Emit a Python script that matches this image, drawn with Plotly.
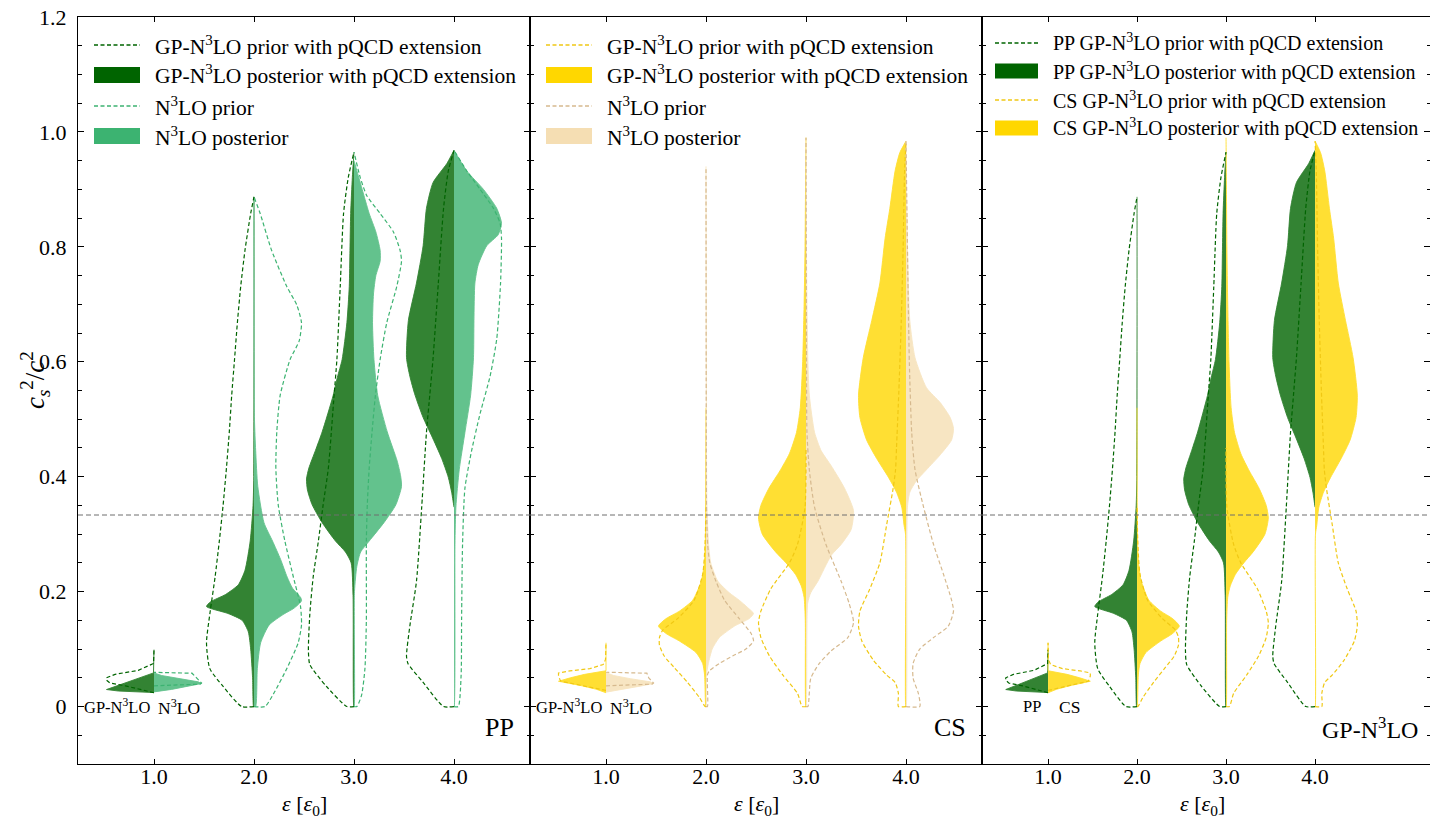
import plotly.graph_objects as go

# ---------------- data ----------------
POSITIONS = [1.0, 2.0, 3.0, 4.0]           # energy density eps/eps0
CONFORMAL_LIMIT = 1.0 / 3.0
Y_TICKS = [0.0, 0.2, 0.4, 0.6, 0.8, 1.0, 1.2]
Y_TICK_TEXT = ["0", "0.2", "0.4", "0.6", "0.8", "1.0", "1.2"]
X_TICK_TEXT = ["1.0", "2.0", "3.0", "4.0"]

# Each profile: per position, c_s^2 values and relative density (max = 1)
PP_GP_PRIOR_Y = [
    [0.024, 0.026, 0.031, 0.036, 0.041, 0.046, 0.050, 0.056, 0.063, 0.070, 0.075, 0.099],
    [0.0, 0.035, 0.066, 0.111, 0.161, 0.225, 0.288, 0.351, 0.415, 0.478, 0.541, 0.604, 0.668, 0.731, 0.794, 0.858, 0.887],
    [0.0, 0.035, 0.073, 0.098, 0.161, 0.225, 0.288, 0.351, 0.415, 0.541, 0.604, 0.731, 0.858, 0.921, 0.965],
    [0.0, 0.042, 0.075, 0.088, 0.14, 0.218, 0.347, 0.477, 0.542, 0.607, 0.737, 0.867, 0.932, 0.968],
]
PP_GP_PRIOR_D = [
    [0.0, 0.1, 0.3, 0.6, 0.93, 1.0, 1.0, 0.82, 0.33, 0.12, 0.01, 0.0],
    [0.26, 0.65, 0.93, 1.0, 0.93, 0.82, 0.73, 0.65, 0.58, 0.52, 0.47, 0.41, 0.35, 0.28, 0.19, 0.07, 0.0],
    [0.15, 0.58, 0.93, 0.96, 0.93, 0.86, 0.75, 0.65, 0.54, 0.42, 0.36, 0.29, 0.22, 0.12, 0.0],
    [0.22, 0.65, 0.97, 1.0, 0.93, 0.79, 0.68, 0.58, 0.51, 0.44, 0.33, 0.22, 0.12, 0.0],
]

PP_GP_POST_Y = [
    [0.0243, 0.0255, 0.027, 0.0296, 0.035, 0.040, 0.045, 0.050, 0.055, 0.0585, 0.099],
    [0.0, 0.05, 0.10, 0.13, 0.15, 0.162, 0.174, 0.182, 0.195, 0.212, 0.237, 0.288, 0.35, 0.40, 0.887],
    [0.0, 0.193, 0.25, 0.269, 0.288, 0.32, 0.351, 0.377, 0.396, 0.415, 0.446, 0.478, 0.541, 0.573, 0.604, 0.668, 0.731, 0.794, 0.858, 0.921, 0.965],
    [0.347, 0.373, 0.399, 0.432, 0.471, 0.503, 0.542, 0.575, 0.607, 0.672, 0.737, 0.802, 0.867, 0.912, 0.945, 0.968],
]
PP_GP_POST_D = [
    [0.0, 0.4, 0.75, 1.0, 0.81, 0.64, 0.46, 0.29, 0.12, 0.01, 0.0],
    [0.01, 0.03, 0.07, 0.12, 0.25, 0.55, 1.0, 0.92, 0.6, 0.33, 0.19, 0.08, 0.02, 0.005, 0.0],
    [0.005, 0.02, 0.06, 0.18, 0.39, 0.67, 0.88, 0.98, 1.0, 0.95, 0.81, 0.67, 0.44, 0.35, 0.25, 0.15, 0.1, 0.085, 0.07, 0.035, 0.0],
    [0.0, 0.05, 0.12, 0.26, 0.47, 0.65, 0.82, 0.93, 1.0, 0.96, 0.79, 0.65, 0.58, 0.44, 0.15, 0.0],
]

PP_N3LO_PRIOR_Y = [
    [0.036, 0.039, 0.041, 0.050, 0.058, 0.0595],
    [0.0, 0.022, 0.066, 0.111, 0.142, 0.174, 0.225, 0.288, 0.351, 0.415, 0.478, 0.541, 0.604, 0.636, 0.668, 0.699, 0.731, 0.794, 0.858, 0.887],
    [0.0, 0.02, 0.066, 0.15, 0.288, 0.351, 0.415, 0.478, 0.541, 0.604, 0.668, 0.731, 0.775, 0.794, 0.826, 0.858, 0.889, 0.921, 0.965],
    [0.0, 0.055, 0.153, 0.282, 0.38, 0.445, 0.51, 0.575, 0.64, 0.737, 0.815, 0.841, 0.867, 0.9, 0.932, 0.968],
]
PP_N3LO_PRIOR_D = [
    [0.0, 0.97, 1.0, 0.9, 0.8, 0.0],
    [0.23, 0.41, 0.69, 0.93, 1.0, 0.98, 0.83, 0.65, 0.51, 0.46, 0.48, 0.55, 0.76, 0.95, 1.0, 0.9, 0.69, 0.37, 0.13, 0.0],
    [0.06, 0.16, 0.23, 0.26, 0.26, 0.28, 0.32, 0.38, 0.45, 0.55, 0.69, 0.9, 1.0, 0.97, 0.83, 0.55, 0.27, 0.13, 0.0],
    [0.09, 0.15, 0.16, 0.18, 0.23, 0.37, 0.55, 0.76, 0.9, 0.98, 1.0, 0.97, 0.83, 0.55, 0.27, 0.0],
]

PP_N3LO_POST_Y = [
    [0.0255, 0.0298, 0.0355, 0.040, 0.043, 0.0485, 0.054, 0.0585],
    [0.0, 0.066, 0.111, 0.142, 0.161, 0.171, 0.184, 0.19, 0.206, 0.225, 0.256, 0.288, 0.32, 0.383, 0.446, 0.5, 0.887],
    [0.0, 0.2, 0.244, 0.269, 0.288, 0.32, 0.351, 0.383, 0.402, 0.427, 0.478, 0.541, 0.604, 0.668, 0.718, 0.75, 0.775, 0.794, 0.826, 0.858, 0.889, 0.921, 0.95],
    [0.0, 0.282, 0.347, 0.412, 0.477, 0.542, 0.607, 0.672, 0.737, 0.769, 0.802, 0.821, 0.841, 0.867, 0.9, 0.932, 0.968],
]
PP_N3LO_POST_D = [
    [0.0, 0.37, 0.72, 1.0, 0.93, 0.51, 0.16, 0.0],
    [0.035, 0.07, 0.14, 0.32, 0.63, 0.84, 1.0, 0.98, 0.81, 0.7, 0.56, 0.39, 0.21, 0.08, 0.035, 0.01, 0.0],
    [0.005, 0.01, 0.06, 0.14, 0.32, 0.63, 0.88, 1.0, 0.98, 0.91, 0.7, 0.5, 0.42, 0.39, 0.41, 0.46, 0.55, 0.55, 0.46, 0.32, 0.21, 0.1, 0.0],
    [0.005, 0.02, 0.04, 0.11, 0.23, 0.35, 0.41, 0.42, 0.44, 0.51, 0.69, 0.93, 1.0, 0.9, 0.62, 0.27, 0.0],
]

CS_GP_PRIOR_Y = [
    [0.028, 0.035, 0.044, 0.047, 0.053, 0.0585, 0.062, 0.066, 0.073, 0.082, 0.111],
    [0.0, 0.016, 0.042, 0.068, 0.088, 0.107, 0.12, 0.133, 0.153, 0.185, 0.23, 0.282, 0.347],
    [0.0, 0.023, 0.055, 0.088, 0.12, 0.146, 0.166, 0.205, 0.25, 0.282, 0.347, 0.45],
    [0.0, 0.023, 0.042, 0.055, 0.081, 0.114, 0.14, 0.166, 0.205, 0.25, 0.315, 0.38, 0.412, 0.45, 0.55, 0.67, 0.8, 0.93, 0.984],
]
CS_GP_PRIOR_D = [
    [0.0, 0.4, 0.95, 0.97, 1.0, 1.0, 0.76, 0.34, 0.06, 0.01, 0.0],
    [0.02, 0.14, 0.39, 0.67, 0.88, 0.98, 0.98, 0.91, 0.6, 0.25, 0.07, 0.02, 0.0],
    [0.08, 0.18, 0.49, 0.77, 0.95, 1.0, 0.95, 0.74, 0.35, 0.18, 0.02, 0.0],
    [0.16, 0.16, 0.23, 0.41, 0.69, 0.93, 1.0, 0.97, 0.76, 0.55, 0.41, 0.27, 0.22, 0.2, 0.15, 0.1, 0.06, 0.03, 0.0],
]

CS_GP_POST_Y = [
    [0.024, 0.030, 0.036, 0.044, 0.050, 0.056, 0.0623, 0.111],
    [0.0, 0.055, 0.075, 0.094, 0.114, 0.127, 0.14, 0.153, 0.166, 0.185, 0.218, 0.25, 0.3, 0.52],
    [0.0, 0.15, 0.19, 0.21, 0.23, 0.25, 0.27, 0.3, 0.328, 0.35, 0.38, 0.41, 0.44, 0.477, 0.52, 0.6, 0.7, 0.8, 0.9, 0.99],
    [0.0, 0.3, 0.315, 0.347, 0.373, 0.399, 0.432, 0.464, 0.503, 0.542, 0.607, 0.672, 0.737, 0.815, 0.867, 0.932, 0.964, 0.984],
]
CS_GP_POST_D = [
    [0.0, 0.2, 0.5, 1.0, 0.75, 0.45, 0.0, 0.0],
    [0.005, 0.03, 0.07, 0.21, 0.56, 0.84, 1.0, 0.84, 0.56, 0.28, 0.1, 0.035, 0.01, 0.0],
    [0.005, 0.015, 0.04, 0.1, 0.22, 0.42, 0.65, 0.92, 1.0, 0.95, 0.78, 0.55, 0.35, 0.2, 0.12, 0.07, 0.04, 0.02, 0.01, 0.0],
    [0.005, 0.01, 0.04, 0.09, 0.2, 0.37, 0.62, 0.83, 0.97, 1.0, 0.9, 0.72, 0.55, 0.44, 0.34, 0.23, 0.13, 0.0],
]

CS_N3LO_PRIOR_Y = [
    [0.036, 0.039, 0.041, 0.050, 0.058, 0.0597],
    [0.0, 0.055, 0.062, 0.075, 0.088, 0.1, 0.114, 0.127, 0.153, 0.185, 0.218, 0.25, 0.282, 0.35, 0.5, 0.94],
    [0.0, 0.049, 0.075, 0.097, 0.12, 0.146, 0.179, 0.218, 0.282, 0.347, 0.412, 0.477, 0.6, 0.99],
    [0.0, 0.023, 0.049, 0.075, 0.1, 0.12, 0.14, 0.166, 0.185, 0.23, 0.282, 0.347, 0.412, 0.477, 0.6, 0.8, 0.984],
]
CS_N3LO_PRIOR_D = [
    [0.0, 0.97, 1.0, 0.9, 0.86, 0.0],
    [0.03, 0.03, 0.07, 0.28, 0.56, 0.84, 1.0, 0.95, 0.7, 0.39, 0.21, 0.08, 0.035, 0.01, 0.005, 0.0],
    [0.04, 0.1, 0.28, 0.53, 0.88, 1.0, 0.91, 0.74, 0.42, 0.18, 0.07, 0.02, 0.01, 0.0],
    [0.29, 0.26, 0.15, 0.15, 0.29, 0.58, 0.89, 1.0, 0.96, 0.79, 0.58, 0.37, 0.19, 0.12, 0.07, 0.03, 0.0],
]

CS_N3LO_POST_Y = [
    [0.025, 0.030, 0.0355, 0.040, 0.043, 0.0485, 0.054, 0.059],
    [0.0, 0.055, 0.075, 0.1, 0.12, 0.14, 0.153, 0.162, 0.172, 0.185, 0.198, 0.218, 0.25, 0.282, 0.347, 0.5, 0.94],
    [0.0, 0.18, 0.198, 0.218, 0.263, 0.282, 0.308, 0.341, 0.38, 0.419, 0.445, 0.477, 0.542, 0.6, 0.7, 0.8, 0.99],
    [0.0, 0.347, 0.373, 0.393, 0.412, 0.438, 0.464, 0.484, 0.503, 0.529, 0.555, 0.607, 0.672, 0.802, 0.9, 0.984],
]
CS_N3LO_POST_D = [
    [0.0, 0.37, 0.72, 1.0, 0.93, 0.51, 0.16, 0.0],
    [0.005, 0.01, 0.05, 0.13, 0.28, 0.6, 0.91, 1.0, 0.88, 0.7, 0.49, 0.25, 0.1, 0.055, 0.02, 0.008, 0.0],
    [0.005, 0.035, 0.1, 0.25, 0.53, 0.74, 0.95, 1.0, 0.81, 0.53, 0.32, 0.18, 0.07, 0.04, 0.02, 0.01, 0.0],
    [0.005, 0.03, 0.08, 0.22, 0.43, 0.72, 0.96, 1.0, 0.93, 0.72, 0.43, 0.19, 0.08, 0.03, 0.01, 0.0],
]

PANEL_NAMES = ["PP", "CS", "GP-N<sup>3</sup>LO"]

# ---------------- style ----------------
FONT = "Liberation Serif"
HALF_WIDTH = 0.475
DG, MSG, GOLD, WHEAT = "#006400", "#3CB371", "#FFD700", "#F5DEB3"
DG_FILL, MSG_FILL, GOLD_FILL, WHEAT_FILL = "#338333", "#63C28D", "#FFDF33", "#F7E5C2"
DG_LINE, MSG_LINE, GOLD_LINE, TAN_LINE = "#006400", "#3CB371", "#F0C814", "#D6B98E"
DASH = "4px,2.5px"

W_PX, H_PX = 1430, 820
L, R, T, B = 78, 1430, 17, 764


def px(x):
    return (x - L) / (R - L)


def py(y):
    return (B - y) / (B - T)


fig = go.Figure()


def half(ax, ys, ds, center, side, color, filled, smooth):
    xs = [center] + [center + side * HALF_WIDTH * d for d in ds] + [center]
    yy = [ys[0]] + list(ys) + [ys[-1]]
    shape = "spline" if smooth else "linear"
    if filled:
        fig.add_trace(go.Scatter(x=xs, y=yy, mode="lines", fill="toself", fillcolor=color,
                                 line=dict(color=color, width=0.9, shape=shape, smoothing=0.6),
                                 xaxis=ax[0], yaxis=ax[1], showlegend=False, hoverinfo="skip"))
    else:
        fig.add_trace(go.Scatter(x=xs, y=yy, mode="lines",
                                 line=dict(color=color, width=1.2, dash=DASH, shape=shape, smoothing=0.6),
                                 xaxis=ax[0], yaxis=ax[1], showlegend=False, hoverinfo="skip"))


def draw(ax, Y, D, side, color, filled):
    for i, c in enumerate(POSITIONS):
        half(ax, Y[i], D[i], c, side, color, filled, smooth=(i > 0))


A1, A2, A3 = ("x", "y"), ("x2", "y2"), ("x3", "y3")
# panel 1: PP
draw(A1, PP_GP_POST_Y, PP_GP_POST_D, -1, DG_FILL, True)
draw(A1, PP_N3LO_POST_Y, PP_N3LO_POST_D, 1, MSG_FILL, True)
draw(A1, PP_GP_PRIOR_Y, PP_GP_PRIOR_D, -1, DG_LINE, False)
draw(A1, PP_N3LO_PRIOR_Y, PP_N3LO_PRIOR_D, 1, MSG_LINE, False)
# panel 2: CS
draw(A2, CS_GP_POST_Y, CS_GP_POST_D, -1, GOLD_FILL, True)
draw(A2, CS_N3LO_POST_Y, CS_N3LO_POST_D, 1, WHEAT_FILL, True)
draw(A2, CS_GP_PRIOR_Y, CS_GP_PRIOR_D, -1, GOLD_LINE, False)
draw(A2, CS_N3LO_PRIOR_Y, CS_N3LO_PRIOR_D, 1, TAN_LINE, False)
# panel 3: GP-N3LO, PP vs CS
draw(A3, PP_GP_POST_Y, PP_GP_POST_D, -1, DG_FILL, True)
draw(A3, CS_GP_POST_Y, CS_GP_POST_D, 1, GOLD_FILL, True)
draw(A3, PP_GP_PRIOR_Y, PP_GP_PRIOR_D, -1, DG_LINE, False)
draw(A3, CS_GP_PRIOR_Y, CS_GP_PRIOR_D, 1, GOLD_LINE, False)

# ---------------- axes ----------------
domains = [(px(78), px(530)), (px(530), px(982)), (px(982), 1.0)]
ranges = [(0.24, 4.76), (0.24, 4.76), (0.258, 0.258 + 448 / 89.0)]
tickfont = dict(family=FONT, size=22, color="black")
layout = dict(width=W_PX, height=H_PX, margin=dict(l=L, r=W_PX - R, t=T, b=H_PX - B),
              paper_bgcolor="white", plot_bgcolor="white", showlegend=False)
for k in range(3):
    sx = "" if k == 0 else str(k + 1)
    layout["xaxis" + sx] = dict(domain=list(domains[k]), range=list(ranges[k]), anchor="y" + sx,
                                tickvals=POSITIONS, ticktext=X_TICK_TEXT, ticks="inside", ticklen=5,
                                tickcolor="black", showline=True, linecolor="black", linewidth=1,
                                mirror="ticks", showgrid=False, zeroline=False, tickfont=tickfont,
                                ticklabelstandoff=-7)
    layout["yaxis" + sx] = dict(domain=[0, 1], range=[-0.1, 1.2], anchor="x" + sx,
                                tickvals=Y_TICKS, ticktext=Y_TICK_TEXT, ticks="inside", ticklen=6,
                                tickcolor="black", showline=True, linecolor="black", linewidth=1,
                                mirror="ticks", showgrid=False, zeroline=False, tickfont=tickfont,
                                showticklabels=(k == 0), ticklabelstandoff=6,
                                minor=dict(dtick=0.05, tick0=0, ticks="inside", ticklen=3.5,
                                           tickcolor="black", showgrid=False))
fig.update_layout(**layout)

shapes = []
for k in range(3):
    sx = "" if k == 0 else str(k + 1)
    shapes.append(dict(type="line", xref="x%s domain" % sx, yref="y" + sx, x0=0, x1=1,
                       y0=CONFORMAL_LIMIT, y1=CONFORMAL_LIMIT,
                       line=dict(color="#6e6e6e", width=1, dash="5px,3px")))

annots = []
# legends
LEG = [
    dict(x0=94, text_x=153, rows=[45, 75, 106, 136], size=21.5, ph=16, hw=46, items=[
        ("line", DG, "GP-N<sup>3</sup>LO prior with pQCD extension"),
        ("patch", DG, "GP-N<sup>3</sup>LO posterior with pQCD extension"),
        ("line", MSG, "N<sup>3</sup>LO prior"),
        ("patch", MSG, "N<sup>3</sup>LO posterior")]),
    dict(x0=546, text_x=605, rows=[45, 75, 106, 136], size=21.5, ph=16, hw=46, items=[
        ("line", GOLD_LINE, "GP-N<sup>3</sup>LO prior with pQCD extension"),
        ("patch", GOLD, "GP-N<sup>3</sup>LO posterior with pQCD extension"),
        ("line", TAN_LINE, "N<sup>3</sup>LO prior"),
        ("patch", WHEAT, "N<sup>3</sup>LO posterior")]),
    dict(x0=995, text_x=1051, rows=[43, 71, 100, 128], size=20, ph=15, hw=43, items=[
        ("line", DG, "PP GP-N<sup>3</sup>LO prior with pQCD extension"),
        ("patch", DG, "PP GP-N<sup>3</sup>LO posterior with pQCD extension"),
        ("line", GOLD_LINE, "CS GP-N<sup>3</sup>LO prior with pQCD extension"),
        ("patch", GOLD, "CS GP-N<sup>3</sup>LO posterior with pQCD extension")]),
]
for lg in LEG:
    for (kind, col, label), yrow in zip(lg["items"], lg["rows"]):
        if kind == "line":
            shapes.append(dict(type="line", xref="paper", yref="paper",
                               x0=px(lg["x0"]), x1=px(lg["x0"] + lg["hw"]), y0=py(yrow), y1=py(yrow),
                               line=dict(color=col, width=1.3, dash=DASH)))
        else:
            shapes.append(dict(type="rect", xref="paper", yref="paper",
                               x0=px(lg["x0"]), x1=px(lg["x0"] + lg["hw"]),
                               y0=py(yrow + lg["ph"] / 2), y1=py(yrow - lg["ph"] / 2),
                               fillcolor=col, line=dict(width=0)))
        annots.append(dict(xref="paper", yref="paper", x=px(lg["text_x"]), y=py(yrow),
                           xanchor="left", yanchor="middle", text=label, showarrow=False,
                           font=dict(family=FONT, size=lg["size"], color="black")))

# panel names
for k, name in enumerate(PANEL_NAMES):
    sx = "" if k == 0 else str(k + 1)
    annots.append(dict(xref="x%s domain" % sx, yref="y" + sx, x=1, y=-0.037, xanchor="right",
                       yanchor="middle", xshift=-14 if k < 2 else -10, text=name, showarrow=False,
                       font=dict(family=FONT, size=26 if k < 2 else 24, color="black")))
    # x-axis titles
    annots.append(dict(xref="x%s domain" % sx, yref="paper", x=0.5 if k < 2 else (1202 - 982) / 448.0,
                       y=py(805), xanchor="center", yanchor="middle",
                       text="<i>ε</i> [<i>ε</i><sub>0</sub>]", showarrow=False,
                       font=dict(family=FONT, size=22, color="black")))

# labels under the eps=1 violins
POS1_LABELS = [("x", "y", "GP-N<sup>3</sup>LO", "N<sup>3</sup>LO", -2, 2),
               ("x2", "y2", "GP-N<sup>3</sup>LO", "N<sup>3</sup>LO", -2, 2),
               ("x3", "y3", "PP", "CS", -5, 9)]
for xa, ya, lt, rt, ls, rs in POS1_LABELS:
    annots.append(dict(xref=xa, yref=ya, x=POSITIONS[0], y=0, xanchor="right", yanchor="middle",
                       xshift=ls, text=lt, showarrow=False, font=dict(family=FONT, size=16.5, color="black")))
    annots.append(dict(xref=xa, yref=ya, x=POSITIONS[0], y=0, xanchor="left", yanchor="middle",
                       xshift=rs, text=rt, showarrow=False, font=dict(family=FONT, size=17.5, color="black")))

# y title
annots.append(dict(xref="paper", yref="paper", x=px(35), y=py(380), xanchor="center", yanchor="middle",
                   textangle=-90, showarrow=False,
                   text="<i>c</i><sub><i>s</i></sub><sup>2</sup>/<i>c</i><sup>2</sup>",
                   font=dict(family=FONT, size=27, color="black")))

fig.update_layout(shapes=shapes, annotations=annots)
fig.write_html("out.html")
